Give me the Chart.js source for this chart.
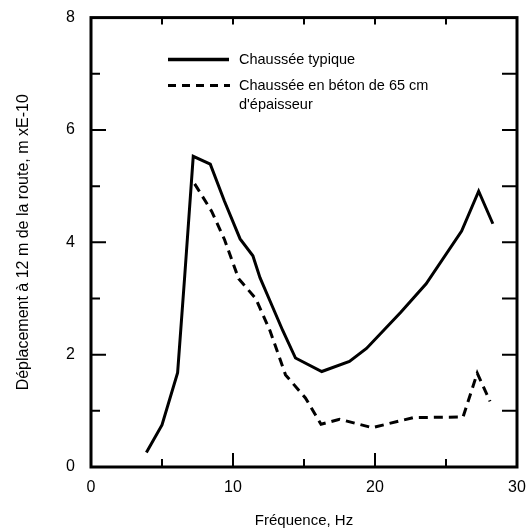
<!DOCTYPE html>
<html>
<head>
<meta charset="utf-8">
<script src="https://cdn.jsdelivr.net/npm/chart.js@4"></script>
<style>
  html, body { margin: 0; padding: 0; background: #fff; }
  #wrap { width: 531px; height: 531px; }
</style>
</head>
<body>
<div id="wrap"><canvas id="chart" width="531" height="531"></canvas></div>
<script>
// données
const freqTypique = [3.9, 5.0, 6.1, 6.6, 7.2, 8.4, 9.4, 10.5, 11.4, 11.9, 12.6, 13.5, 14.4, 16.25, 18.2, 19.4, 21.8, 23.6, 26.1, 27.3, 28.3];
const deplTypique = [0.26, 0.75, 1.68, 3.4, 5.53, 5.39, 4.73, 4.06, 3.76, 3.37, 2.96, 2.43, 1.94, 1.70, 1.88, 2.11, 2.75, 3.26, 4.2, 4.91, 4.33];
const freqBeton = [7.3, 7.5, 8.5, 9.4, 10.4, 11.6, 12.6, 13.7, 15.1, 16.2, 17.5, 19.8, 22.7, 26.2, 27.2, 28.1];
const deplBeton = [5.04, 4.96, 4.55, 4.05, 3.35, 3.0, 2.43, 1.64, 1.23, 0.76, 0.85, 0.70, 0.88, 0.89, 1.67, 1.17];
const legendLabels = [["Chaussée typique"], ["Chaussée en béton de 65 cm", "d'épaisseur"]];
const xMajor = [5, 10, 15, 20, 25];
const yMajor = [1, 2, 3, 4, 5, 6, 7];

const FONT = "'Liberation Sans', Arial, sans-serif";

function toPoints(xs, ys) {
  return xs.map((x, i) => ({ x, y: ys[i] }));
}

// cadre, graduations intérieures et légende
const framePlugin = {
  id: "frame",
  afterDraw(chart) {
    const { ctx, chartArea: a, scales } = chart;
    ctx.save();
    ctx.strokeStyle = "#000";
    ctx.lineWidth = 3;
    ctx.strokeRect(a.left, a.top, a.right - a.left, a.bottom - a.top);

    ctx.lineWidth = 2;
    xMajor.forEach(v => {
      const px = scales.x.getPixelForValue(v);
      const len = v % 10 === 0 ? 14 : 8;
      ctx.beginPath();
      ctx.moveTo(px, a.bottom); ctx.lineTo(px, a.bottom - len);
      ctx.moveTo(px, a.top); ctx.lineTo(px, a.top + 7);
      ctx.stroke();
    });
    yMajor.forEach(v => {
      const py = scales.y.getPixelForValue(v);
      const len = v % 2 === 0 ? 15 : 9;
      ctx.beginPath();
      ctx.moveTo(a.left, py); ctx.lineTo(a.left + len, py);
      ctx.moveTo(a.right, py); ctx.lineTo(a.right - 15, py);
      ctx.stroke();
    });

    // légende
    const lx = a.left + 77, ly = a.top + 42;
    ctx.lineWidth = 3.5;
    ctx.beginPath();
    ctx.moveTo(lx, ly); ctx.lineTo(lx + 61, ly);
    ctx.stroke();
    ctx.lineWidth = 3;
    ctx.setLineDash([8, 6]);
    ctx.beginPath();
    ctx.moveTo(lx, ly + 26); ctx.lineTo(lx + 62, ly + 26);
    ctx.stroke();
    ctx.setLineDash([]);
    ctx.fillStyle = "#000";
    ctx.font = "14.5px " + FONT;
    ctx.textBaseline = "middle";
    ctx.fillText(legendLabels[0][0], lx + 71, ly);
    ctx.fillText(legendLabels[1][0], lx + 71, ly + 26);
    ctx.fillText(legendLabels[1][1], lx + 71, ly + 45);
    ctx.restore();
  }
};

new Chart(document.getElementById("chart"), {
  type: "scatter",
  data: {
    datasets: [
      {
        label: legendLabels[0][0],
        data: toPoints(freqTypique, deplTypique),
        showLine: true,
        borderColor: "#000",
        borderWidth: 3,
        pointRadius: 0,
        tension: 0
      },
      {
        label: legendLabels[1].join(" "),
        data: toPoints(freqBeton, deplBeton),
        showLine: true,
        borderColor: "#000",
        borderWidth: 3,
        borderDash: [9, 6],
        pointRadius: 0,
        tension: 0
      }
    ]
  },
  options: {
    responsive: false,
    animation: false,
    layout: { padding: { top: 13, right: 14, left: 10, bottom: 0 } },
    plugins: { legend: { display: false }, tooltip: { enabled: false } },
    scales: {
      x: {
        type: "linear",
        min: 0, max: 30,
        ticks: { stepSize: 10, color: "#000", font: { family: FONT, size: 16 }, padding: 3 },
        grid: { display: false },
        border: { display: false },
        title: { display: true, text: "Fréquence, Hz", color: "#000", font: { family: FONT, size: 15 }, padding: { top: 20, bottom: 1 } },
        afterFit(scale) { scale.height = 64; }
      },
      y: {
        min: 0, max: 8,
        ticks: { stepSize: 2, color: "#000", font: { family: FONT, size: 16 }, padding: 8 },
        grid: { display: false },
        border: { display: false },
        title: { display: true, text: "Déplacement à 12 m de la route, m xE-10", color: "#000", font: { family: FONT, size: 16 }, padding: { top: 4, bottom: 10 } },
        afterFit(scale) { scale.width = 81; }
      }
    }
  },
  plugins: [framePlugin]
});
</script>
</body>
</html>
